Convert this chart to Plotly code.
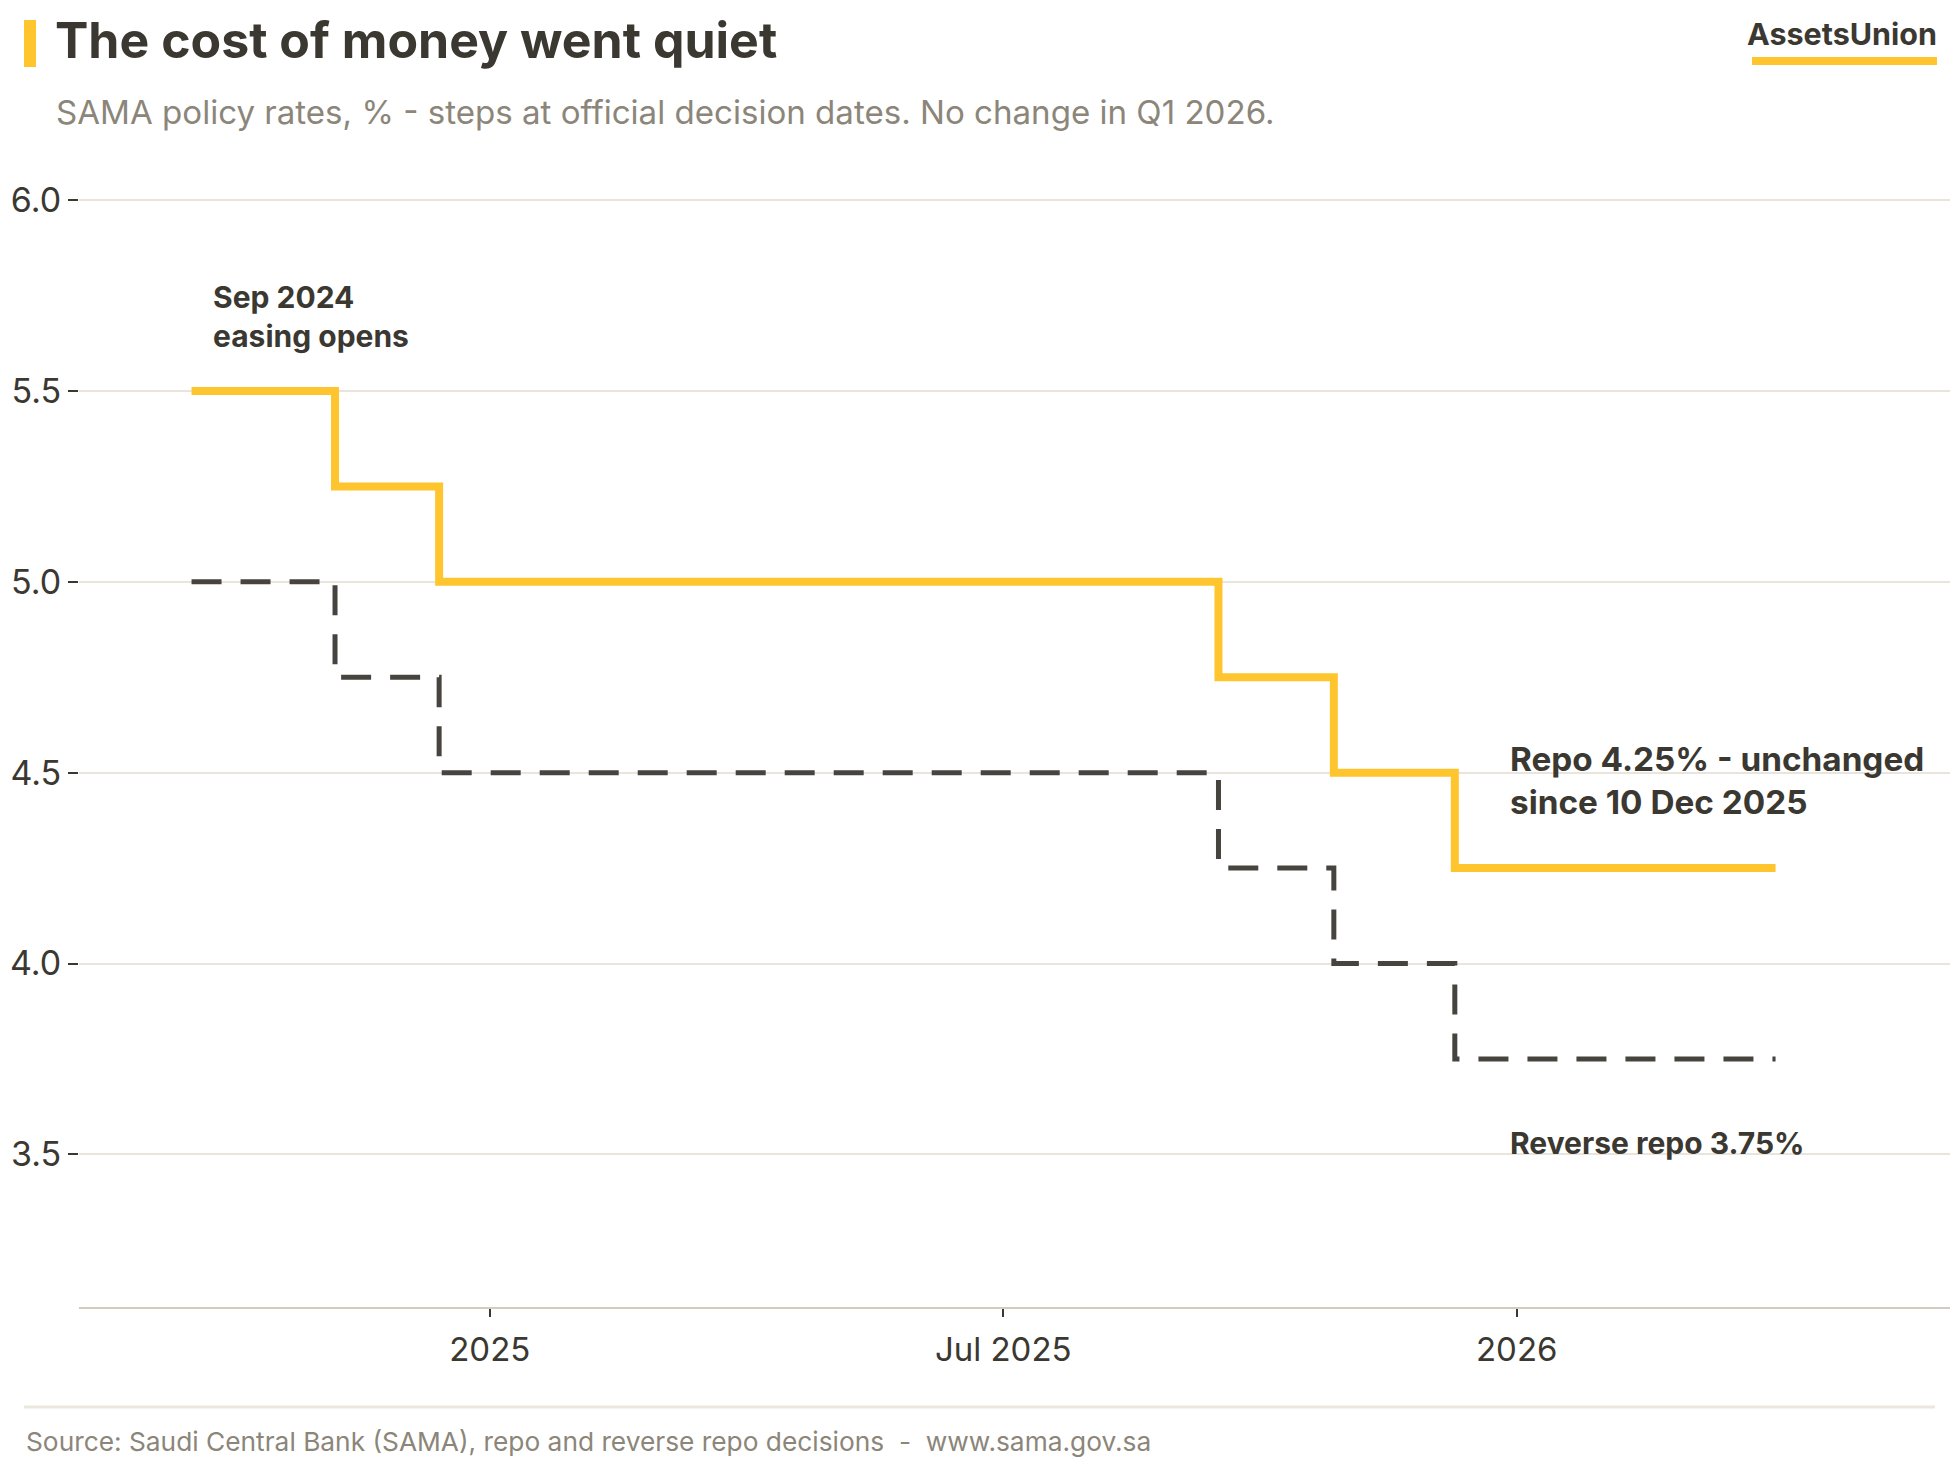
import plotly.graph_objects as go

# ---- data ----
decision_dates = ["2024-09-17", "2024-11-07", "2024-12-14", "2025-09-17",
                  "2025-10-28", "2025-12-10", "2026-04-03"]
repo_rate = [5.50, 5.25, 5.00, 4.75, 4.50, 4.25, 4.25]
reverse_repo_rate = [5.00, 4.75, 4.50, 4.25, 4.00, 3.75, 3.75]
x_tick_vals = ["2025-01-01", "2025-07-02 12:00", "2026-01-01"]
x_tick_text = ["2025", "Jul 2025", "2026"]
y_tick_vals = [3.5, 4.0, 4.5, 5.0, 5.5, 6.0]
y_tick_text = ["3.5", "4.0", "4.5", "5.0", "5.5", "6.0"]

W, H = 1960, 1480
L, R, T, B = 79, 10, 162, 173
PW, PH = W - L - R, H - T - B

def px(x):
    return (x - L) / PW

def py(y):
    return (H - B - y) / PH

DARK = "#3b3832"
YELLOW = "#ffc52f"
DASH = "#47443f"
GREY = "#8b8679"
FONT = "Inter"

fig = go.Figure()
fig.add_trace(go.Scatter(
    x=decision_dates, y=reverse_repo_rate, mode="lines", line_shape="hv",
    line=dict(color=DASH, width=5, dash="30px,19px"), name="Reverse repo",
    hoverinfo="skip"))
fig.add_trace(go.Scatter(
    x=decision_dates, y=repo_rate, mode="lines", line_shape="hv",
    line=dict(color=YELLOW, width=8), name="Repo", hoverinfo="skip"))

ann = []
ann.append(dict(text="<b>The cost of money went quiet</b>", x=px(53), y=py(40),
                xref="paper", yref="paper", xanchor="left", yanchor="middle",
                showarrow=False, font=dict(family=FONT, size=50, color=DARK)))
ann.append(dict(text="SAMA policy rates, % - steps at official decision dates. No change in Q1 2026.",
                x=px(53.5), y=py(111.5), xref="paper", yref="paper", xanchor="left",
                yanchor="middle", showarrow=False,
                font=dict(family=FONT, size=33.1, color=GREY)))
ann.append(dict(text="<b>AssetsUnion</b>", x=px(1938.5), y=py(33), xref="paper", yref="paper",
                xanchor="right", yanchor="middle", showarrow=False,
                font=dict(family=FONT, size=30.5, color=DARK)))
ann.append(dict(text="Source: Saudi Central Bank (SAMA), repo and reverse repo decisions  -  www.sama.gov.sa",
                x=px(24), y=py(1441.6), xref="paper", yref="paper", xanchor="left",
                yanchor="middle", showarrow=False,
                font=dict(family=FONT, size=26.3, color=GREY)))
ann.append(dict(text="<b>Sep 2024<br>easing opens</b>", x=px(210.5), y=py(316), xref="paper",
                yref="paper", xanchor="left", yanchor="middle", align="left",
                showarrow=False, font=dict(family=FONT, size=30, color=DARK)))
ann.append(dict(text="<b>Repo 4.25% - unchanged<br>since 10 Dec 2025</b>", x=px(1507.5), y=py(780),
                xref="paper", yref="paper", xanchor="left", yanchor="middle", align="left",
                showarrow=False, font=dict(family=FONT, size=33.3, color=DARK)))
ann.append(dict(text="<b>Reverse repo 3.75%</b>", x=px(1507.5), y=py(1143),
                xref="paper", yref="paper", xanchor="left", yanchor="middle", align="left",
                showarrow=False, font=dict(family=FONT, size=30, color=DARK)))

shapes = [
    dict(type="rect", xref="paper", yref="paper", x0=px(24), x1=px(36), y0=py(67), y1=py(20),
         fillcolor=YELLOW, line=dict(width=0)),
    dict(type="rect", xref="paper", yref="paper", x0=px(1752), x1=px(1937), y0=py(65), y1=py(57),
         fillcolor=YELLOW, line=dict(width=0)),
    dict(type="line", xref="paper", yref="paper", x0=px(24), x1=px(1935), y0=py(1407), y1=py(1407),
         line=dict(color="#ebe7dc", width=3)),
]

fig.update_layout(
    width=W, height=H, margin=dict(l=L, r=R, t=T, b=B, autoexpand=False),
    paper_bgcolor="white", plot_bgcolor="white", showlegend=False,
    hovermode=False, annotations=ann, shapes=shapes,
    font=dict(family=FONT, color=DARK),
    xaxis=dict(type="date", range=["2024-08-08", "2026-06-04"],
               tickvals=x_tick_vals, ticktext=x_tick_text,
               showgrid=False, zeroline=False, showline=True,
               linecolor="#d2cbbe", linewidth=2,
               ticks="outside", ticklen=8, tickwidth=1.5, tickcolor=DARK,
               ticklabelstandoff=4,
               tickfont=dict(family=FONT, size=33, color=DARK)),
    yaxis=dict(range=[3.1, 6.1], tickvals=y_tick_vals, ticktext=y_tick_text,
               showgrid=True, gridcolor="#e9e5dc", gridwidth=1.5,
               zeroline=False, showline=False,
               ticks="outside", ticklen=10, tickwidth=2, tickcolor=DARK,
               tickfont=dict(family=FONT, size=34, color=DARK)),
)

fig.write_html("out.html")
